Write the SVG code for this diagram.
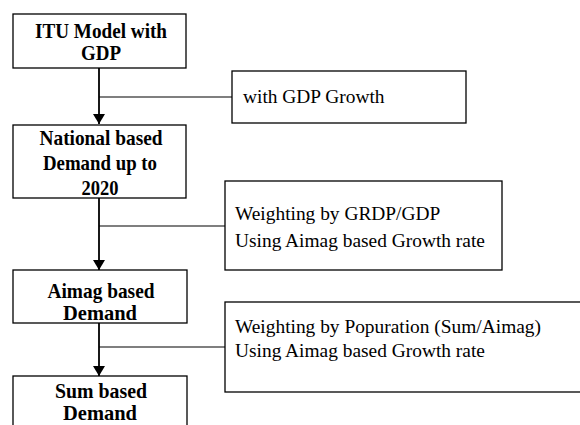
<svg xmlns="http://www.w3.org/2000/svg" width="580" height="425" viewBox="0 0 580 425">
  <defs>
    <marker id="arrow" viewBox="0 0 10 12" refX="10" refY="6" markerWidth="10" markerHeight="12" markerUnits="userSpaceOnUse" orient="auto">
      <path d="M0,0 L10,6 L0,12 Z" fill="#000"/>
    </marker>
    <style>
      .box { fill: #fff; stroke: #000; stroke-width: 1.3; }
      .main { font-family: "Liberation Serif", "Times New Roman", serif; font-weight: bold; font-size: 21px; fill: #000; text-anchor: middle; }
      .note { font-family: "Liberation Serif", "Times New Roman", serif; font-size: 19.4px; fill: #000; }
      .flow { fill: none; stroke: #000; stroke-width: 1.8; }
      .tap { fill: none; stroke: #000; stroke-width: 1.2; }
    </style>
  </defs>
  <rect width="580" height="425" fill="#fff"/>

  <!-- connectors -->
  <g id="connectors">
    <line class="flow" x1="99" y1="68" x2="99" y2="124" marker-end="url(#arrow)"/>
    <line class="tap" x1="99" y1="97" x2="232" y2="97"/>
    <line class="flow" x1="99" y1="198" x2="99" y2="270" marker-end="url(#arrow)"/>
    <line class="tap" x1="99" y1="226" x2="225" y2="226"/>
    <line class="flow" x1="99" y1="323" x2="99" y2="376" marker-end="url(#arrow)"/>
    <line class="tap" x1="99" y1="347" x2="225" y2="347"/>
  </g>

  <!-- main flow -->
  <g id="itu-model">
    <rect class="box" x="13" y="14" width="173" height="54"/>
    <text class="main" x="101" y="38" textLength="132" lengthAdjust="spacingAndGlyphs">ITU Model with</text>
    <text class="main" x="101" y="60" textLength="40" lengthAdjust="spacingAndGlyphs">GDP</text>
  </g>
  <g id="national-demand">
    <rect class="box" x="13" y="125" width="173" height="73"/>
    <text class="main" x="101" y="145" textLength="123" lengthAdjust="spacingAndGlyphs">National based</text>
    <text class="main" x="100" y="170" textLength="114" lengthAdjust="spacingAndGlyphs">Demand up to</text>
    <text class="main" x="100" y="195" textLength="37" lengthAdjust="spacingAndGlyphs">2020</text>
  </g>
  <g id="aimag-demand">
    <rect class="box" x="13" y="270" width="174" height="53"/>
    <text class="main" x="101" y="298" textLength="107" lengthAdjust="spacingAndGlyphs">Aimag based</text>
    <text class="main" x="100" y="320" textLength="74" lengthAdjust="spacingAndGlyphs">Demand</text>
  </g>
  <g id="sum-demand">
    <rect class="box" x="13" y="376" width="174" height="60"/>
    <text class="main" x="101" y="398" textLength="92" lengthAdjust="spacingAndGlyphs">Sum based</text>
    <text class="main" x="100" y="420" textLength="74" lengthAdjust="spacingAndGlyphs">Demand</text>
  </g>

  <!-- side notes -->
  <g id="gdp-growth">
    <rect class="box" x="232" y="71" width="234" height="52"/>
    <text class="note" x="243" y="103">with GDP Growth</text>
  </g>
  <g id="grdp-weighting">
    <rect class="box" x="225" y="181" width="277" height="89"/>
    <text class="note" x="235" y="220">Weighting by GRDP/GDP</text>
    <text class="note" x="235" y="247">Using Aimag based Growth rate</text>
  </g>
  <g id="population-weighting">
    <rect class="box" x="225" y="302" width="365" height="90"/>
    <text class="note" x="235" y="333">Weighting by Popuration (Sum/Aimag)</text>
    <text class="note" x="235" y="357">Using Aimag based Growth rate</text>
  </g>
</svg>
